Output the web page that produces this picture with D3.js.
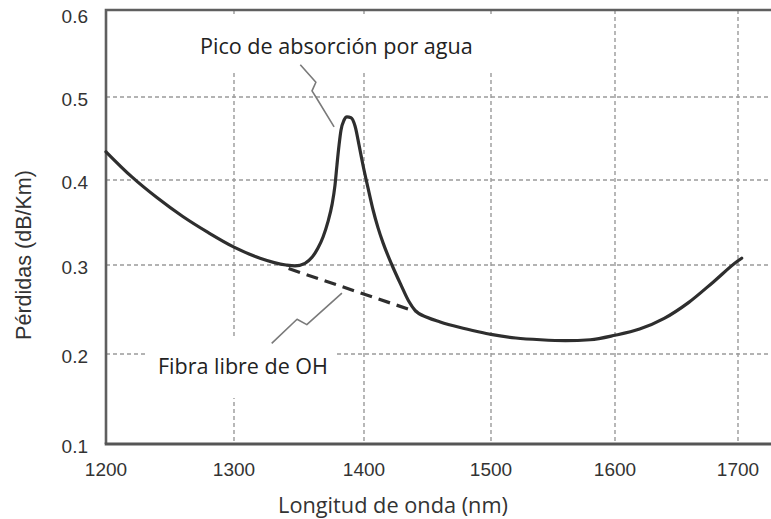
<!DOCTYPE html>
<html>
<head>
<meta charset="utf-8">
<script src="https://cdn.jsdelivr.net/npm/d3@7/dist/d3.min.js"></script>
<style>
  html, body { margin: 0; padding: 0; background: #fff; }
  svg { display: block; }
</style>
</head>
<body>
<svg id="chart" width="771" height="519"></svg>
<script>
// ---- data ----
const wavelengths = [1200, 1220, 1240, 1260, 1280, 1300, 1320, 1340, 1347, 1354.6, 1360, 1364.6, 1368.5, 1372.3, 1375.4, 1377.7, 1379.2, 1380.8, 1382.3, 1384.6, 1386.9, 1390, 1393.1, 1396.2, 1399.2, 1403.1, 1407.1, 1411, 1415, 1422, 1429, 1435.4, 1440.2, 1450, 1460, 1475, 1490, 1500, 1520, 1540, 1560, 1580, 1600, 1620, 1640, 1660, 1680, 1700, 1703];
const losses      = [0.434, 0.404, 0.379, 0.357, 0.338, 0.321, 0.308, 0.300, 0.299, 0.302, 0.309, 0.320, 0.333, 0.351, 0.371, 0.394, 0.418, 0.442, 0.460, 0.472, 0.476, 0.475, 0.465, 0.442, 0.418, 0.391, 0.365, 0.344, 0.326, 0.300, 0.278, 0.259, 0.249, 0.241, 0.236, 0.230, 0.225, 0.222, 0.218, 0.216, 0.215, 0.216, 0.221, 0.228, 0.240, 0.258, 0.281, 0.305, 0.308];
const ohFreeWavelengths = [1342, 1440];
const ohFreeLosses      = [0.296, 0.248];
const xTickValues = [1200, 1300, 1400, 1500, 1600, 1700];
const yTickValues = [0.1, 0.2, 0.3, 0.4, 0.5, 0.6];
const yTickLabels = ["0.1", "0.2", "0.3", "0.4", "0.5", "0.6"];
const xTitle = "Longitud de onda (nm)";
const yTitle = "Pérdidas (dB/Km)";
const peakLabel = "Pico de absorción por agua";
const ohLabel = "Fibra libre de OH";
// annotation leaders in data units
const peakLeaderWl  = [1351, 1363, 1360, 1363, 1377];
const peakLeaderVal = [0.537, 0.517, 0.507, 0.500, 0.464];
const ohLeaderWl  = [1329, 1348.5, 1356, 1383];
const ohLeaderVal = [0.212, 0.239, 0.233, 0.2685];

// ---- layout ----
const W = 771, H = 519;
const svg = d3.select("#chart");
const x = d3.scaleLinear().domain(xTickValues).range([106, 234, 364, 491, 615, 738]);
const y = d3.scaleLinear().domain(yTickValues).range([444, 354, 265, 180, 97, 10]);

function fitWidth(sel, target) {
  const w = sel.node().getComputedTextLength();
  const fs = +sel.attr("font-size");
  if (w > 0) sel.attr("font-size", (fs * target / w).toFixed(2));
  return sel;
}

const gridColor = "#9a9a9a";
// grid
const grid = svg.append("g");
grid.selectAll("line.v").data(xTickValues.slice(1)).join("line")
  .attr("x1", d => x(d)).attr("x2", d => x(d))
  .attr("y1", y(0.6)).attr("y2", y(0.1))
  .attr("stroke", gridColor).attr("stroke-width", 1.4).attr("stroke-dasharray", "4,3");
grid.selectAll("line.h").data(yTickValues.slice(1, -1)).join("line")
  .attr("x1", x(1200)).attr("x2", W)
  .attr("y1", d => y(d)).attr("y2", d => y(d))
  .attr("stroke", gridColor).attr("stroke-width", 1.4).attr("stroke-dasharray", "4,3");

// white backgrounds behind the annotation labels
svg.append("rect").attr("x", 190).attr("y", 17).attr("width", 320).attr("height", 56).attr("fill", "#fff");
svg.append("rect").attr("x", 145).attr("y", 337).attr("width", 192).attr("height", 61).attr("fill", "#fff");

// frame
const frame = svg.append("g").attr("stroke", "#5f5f5f").attr("stroke-width", 2.6).attr("fill", "none");
frame.append("path").attr("d", d3.line()([[x(1200), y(0.1)], [x(1200), y(0.6)], [W, y(0.6)]]));
frame.append("line").attr("x1", x(1200) - 1.3).attr("x2", W).attr("y1", y(0.1)).attr("y2", y(0.1)).attr("stroke", "#555").attr("stroke-width", 3);

// tick labels
const tickFont = "'Liberation Sans', Arial, sans-serif";
svg.append("g").selectAll("text").data(xTickValues).join("text")
  .attr("x", d => x(d)).attr("y", 475.5)
  .attr("text-anchor", "middle")
  .attr("font-family", tickFont).attr("font-size", 19).attr("fill", "#333")
  .text(d => d);
svg.append("g").selectAll("text").data(yTickValues).join("text")
  .attr("x", 88).attr("y", (d, i) => y(d) + (i === yTickValues.length - 1 ? 13 : 9))
  .attr("text-anchor", "end")
  .attr("font-family", tickFont).attr("font-size", 19).attr("fill", "#333")
  .text((d, i) => yTickLabels[i]);

// axis titles
fitWidth(svg.append("text")
  .attr("transform", "translate(31,255) rotate(-90)")
  .attr("text-anchor", "middle")
  .attr("font-family", tickFont).attr("font-size", 21).attr("fill", "#333")
  .text(yTitle), 170);
fitWidth(svg.append("text")
  .attr("x", 393).attr("y", 513)
  .attr("text-anchor", "middle")
  .attr("font-family", "'Open Sans', sans-serif").attr("font-size", 20).attr("fill", "#333")
  .text(xTitle), 230);

// curves
const line = d3.line().x(d => x(d[0])).y(d => y(d[1])).curve(d3.curveMonotoneX);
svg.append("path")
  .attr("d", line(wavelengths.map((w, i) => [w, losses[i]])))
  .attr("fill", "none").attr("stroke", "#2e2e2e").attr("stroke-width", 3.2)
  .attr("stroke-linejoin", "round").attr("stroke-linecap", "round");
svg.append("path")
  .attr("d", d3.line().x(d => x(d[0])).y(d => y(d[1]))(ohFreeWavelengths.map((w, i) => [w, ohFreeLosses[i]])))
  .attr("fill", "none").attr("stroke", "#2e2e2e").attr("stroke-width", 3.2)
  .attr("stroke-dasharray", "12,7");

// leaders
const leader = d3.line().x(d => x(d[0])).y(d => y(d[1]));
svg.append("path")
  .attr("d", leader(peakLeaderWl.map((w, i) => [w, peakLeaderVal[i]])))
  .attr("fill", "none").attr("stroke", "#7a7a7a").attr("stroke-width", 1.6).attr("stroke-linejoin", "round");
svg.append("path")
  .attr("d", leader(ohLeaderWl.map((w, i) => [w, ohLeaderVal[i]])))
  .attr("fill", "none").attr("stroke", "#7a7a7a").attr("stroke-width", 1.6).attr("stroke-linejoin", "round");

// annotation labels
fitWidth(svg.append("text")
  .attr("x", x(1273.4)).attr("y", 53.5)
  .attr("font-family", "'Open Sans', sans-serif").attr("font-size", 20).attr("fill", "#222")
  .text(peakLabel), 273);
fitWidth(svg.append("text")
  .attr("x", 158).attr("y", 374)
  .attr("font-family", "'Open Sans', sans-serif").attr("font-size", 20).attr("fill", "#222")
  .text(ohLabel), 170);
</script>
</body>
</html>
